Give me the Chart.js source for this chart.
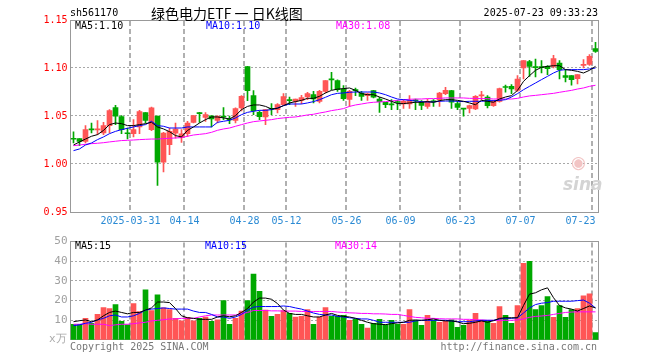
<!DOCTYPE html>
<html><head><meta charset="utf-8">
<script src="https://cdn.jsdelivr.net/npm/chart.js@4.4.1/dist/chart.umd.min.js"></script>
<style>
html,body{margin:0;padding:0;background:#fff;}
#wrap{position:relative;width:660px;height:360px;overflow:hidden;background:#fff;}
canvas{position:absolute;left:0;}
.t{position:absolute;font-family:'DejaVu Sans Mono',monospace;font-size:10px;line-height:12px;white-space:pre;}
</style></head>
<body><div id="wrap">
<canvas id="k" width="660" height="232" style="top:0;width:660px;height:232px"></canvas>
<canvas id="v" width="660" height="128" style="top:232px;width:660px;height:128px"></canvas>
<div class="t" style="left:70px;top:7px;color:#000">sh561170</div>
<div class="t" style="left:151px;top:4px;font-family:'Noto Sans CJK SC',sans-serif;font-size:14px;line-height:18px;color:#000">绿色电力ETF 一 日K线图</div>
<div class="t" style="right:62px;top:7px;color:#000">2025-07-23 09:33:23</div>
<div class="t" style="left:75px;top:20px;color:#000">MA5:1.10</div>
<div class="t" style="left:206px;top:20px;color:#0000ff">MA10:1.10</div>
<div class="t" style="left:336px;top:20px;color:#ff00ff">MA30:1.08</div>
<div class="t" style="left:75px;top:240px;color:#000">MA5:15</div>
<div class="t" style="left:205px;top:240px;color:#0000ff">MA10:15</div>
<div class="t" style="left:335px;top:240px;color:#ff00ff">MA30:14</div>
<div class="t" style="left:49px;top:333px;color:#aaa;font-size:11px">x万</div>
<div class="t" style="left:70px;top:341px;color:#777">Copyright 2025 SINA.COM</div>
<div class="t" style="right:63px;top:341px;color:#777">http://finance.sina.com.cn</div>
<div class="t" style="left:571px;top:152px;color:#f2c4c4;font-family:'DejaVu Sans',sans-serif;font-size:17px;line-height:20px">◉</div>
<div class="t" style="left:563px;top:174px;color:#d4d4d4;font-family:'DejaVu Sans',sans-serif;font-size:17px;line-height:20px;font-style:italic;font-weight:bold">sina</div>
</div>
<script>
const dates = [
 '2025-03-17','2025-03-18','2025-03-19','2025-03-20','2025-03-21','2025-03-24','2025-03-25','2025-03-26','2025-03-27','2025-03-28','2025-03-31',
 '2025-04-01','2025-04-02','2025-04-03','2025-04-07','2025-04-08','2025-04-09','2025-04-10','2025-04-11','2025-04-14','2025-04-15','2025-04-16','2025-04-17','2025-04-18','2025-04-21','2025-04-22','2025-04-23','2025-04-24','2025-04-25','2025-04-28','2025-04-29','2025-04-30',
 '2025-05-06','2025-05-07','2025-05-08','2025-05-09','2025-05-12','2025-05-13','2025-05-14','2025-05-15','2025-05-16','2025-05-19','2025-05-20','2025-05-21','2025-05-22','2025-05-23','2025-05-26','2025-05-27','2025-05-28','2025-05-29','2025-05-30',
 '2025-06-03','2025-06-04','2025-06-05','2025-06-06','2025-06-09','2025-06-10','2025-06-11','2025-06-12','2025-06-13','2025-06-16','2025-06-17','2025-06-18','2025-06-19','2025-06-20','2025-06-23','2025-06-24','2025-06-25','2025-06-26','2025-06-27','2025-06-30',
 '2025-07-01','2025-07-02','2025-07-03','2025-07-04','2025-07-07','2025-07-08','2025-07-09','2025-07-10','2025-07-11','2025-07-14','2025-07-15','2025-07-16','2025-07-17','2025-07-18','2025-07-21','2025-07-22','2025-07-23'
];
const tickDates = ['2025-03-31','2025-04-14','2025-04-28','2025-05-12','2025-05-26','2025-06-09','2025-06-23','2025-07-07','2025-07-23'];
const tickLabels = ['2025-03-31','04-14','04-28','05-12','05-26','06-09','06-23','07-07','07-23    '];
const priceTicks = [0.95,1.00,1.05,1.10,1.15];
const volTicks = [0,10,20,30,40,50];

const opens = [
 1.0262,1.0264,1.0236,1.0360,1.0355,1.0323,1.0400,1.0587,1.0493,1.0318,
 1.0316,1.0386,1.0535,1.0358,1.0500,1.0018,1.0202,1.0320,1.0278,1.0316,
 1.0434,1.0527,1.0486,1.0503,1.0455,1.0490,1.0464,1.0455,1.0584,1.1014,
 1.0712,1.0538,1.0490,1.0574,1.0566,1.0618,1.0665,1.0653,1.0663,1.0698,
 1.0722,1.0653,1.0757,1.0880,1.0868,1.0781,1.0674,1.0767,1.0740,1.0712,
 1.0764,1.0677,1.0643,1.0620,1.0645,1.0625,1.0625,1.0662,1.0643,1.0600,
 1.0651,1.0670,1.0733,1.0764,1.0629,1.0575,1.0580,1.0573,1.0709,1.0698,
 1.0608,1.0653,1.0801,1.0809,1.0767,1.1000,1.1066,1.1008,1.1008,1.1017,
 1.1017,1.1052,1.0920,1.0920,1.0889,1.1028,1.1038,1.1201];
const closes = [
 1.0258,1.0236,1.0358,1.0356,1.0360,1.0400,1.0556,1.0497,1.0358,1.0315,
 1.0358,1.0545,1.0455,1.0584,1.0018,1.0323,1.0340,1.0365,1.0313,1.0427,
 1.0504,1.0524,1.0514,1.0469,1.0497,1.0488,1.0460,1.0577,1.0705,1.0764,
 1.0556,1.0493,1.0566,1.0570,1.0618,1.0702,1.0660,1.0677,1.0691,1.0733,
 1.0677,1.0757,1.0868,1.0876,1.0775,1.0681,1.0757,1.0764,1.0705,1.0730,
 1.0695,1.0650,1.0618,1.0616,1.0641,1.0653,1.0660,1.0658,1.0611,1.0653,
 1.0647,1.0740,1.0767,1.0643,1.0590,1.0572,1.0608,1.0705,1.0713,1.0608,
 1.0653,1.0785,1.0797,1.0781,1.0885,1.1076,1.1017,1.1004,1.1004,1.0993,
 1.1097,1.0983,1.0903,1.0879,1.0931,1.1038,1.1121,1.1174];
const highs = [
 1.0334,1.0264,1.0400,1.0427,1.0452,1.0434,1.0566,1.0611,1.0504,1.0375,
 1.0462,1.0559,1.0535,1.0594,1.0500,1.0330,1.0375,1.0427,1.0358,1.0445,
 1.0504,1.0538,1.0535,1.0503,1.0504,1.0587,1.0500,1.0584,1.0712,1.1017,
 1.0764,1.0555,1.0566,1.0629,1.0629,1.0733,1.0698,1.0677,1.0716,1.0747,
 1.0757,1.0767,1.0868,1.0955,1.0878,1.0816,1.0767,1.0792,1.0757,1.0740,
 1.0767,1.0695,1.0643,1.0670,1.0660,1.0670,1.0712,1.0677,1.0660,1.0677,
 1.0670,1.0747,1.0799,1.0767,1.0653,1.0580,1.0615,1.0712,1.0757,1.0712,
 1.0663,1.0792,1.0823,1.0826,1.0920,1.1076,1.1080,1.1094,1.1076,1.1024,
 1.1132,1.1076,1.0983,1.0920,1.0931,1.1087,1.1139,1.1267];
const lows = [
 1.0220,1.0191,1.0219,1.0323,1.0306,1.0306,1.0323,1.0410,1.0316,1.0260,
 1.0281,1.0316,1.0427,1.0348,0.9778,0.9917,1.0098,1.0270,1.0226,1.0288,
 1.0427,1.0434,1.0444,1.0386,1.0427,1.0462,1.0420,1.0427,1.0552,1.0660,
 1.0514,1.0462,1.0410,1.0514,1.0531,1.0615,1.0618,1.0600,1.0629,1.0670,
 1.0636,1.0636,1.0740,1.0775,1.0757,1.0663,1.0601,1.0712,1.0663,1.0663,
 1.0688,1.0538,1.0587,1.0566,1.0566,1.0580,1.0580,1.0566,1.0566,1.0580,
 1.0600,1.0600,1.0722,1.0580,1.0566,1.0497,1.0531,1.0566,1.0670,1.0584,
 1.0600,1.0643,1.0747,1.0733,1.0757,1.0885,1.0913,1.0906,1.0948,1.0931,
 1.1000,1.0885,1.0854,1.0820,1.0833,1.1000,1.1028,1.1163];
const ma5 = [
 1.0198,1.0230,1.0260,1.0289,1.0306,1.0350,1.0410,1.0427,1.0420,1.0400,
 1.0400,1.0410,1.0420,1.0434,1.0386,1.0365,1.0337,1.0296,1.0282,1.0350,
 1.0386,1.0427,1.0462,1.0490,1.0490,1.0480,1.0469,1.0504,1.0566,1.0600,
 1.0615,1.0615,1.0600,1.0573,1.0580,1.0608,1.0636,1.0650,1.0663,1.0684,
 1.0684,1.0705,1.0740,1.0767,1.0780,1.0785,1.0792,1.0767,1.0733,1.0722,
 1.0722,1.0698,1.0677,1.0653,1.0629,1.0629,1.0636,1.0643,1.0643,1.0650,
 1.0643,1.0660,1.0670,1.0670,1.0663,1.0653,1.0636,1.0618,1.0663,1.0653,
 1.0643,1.0677,1.0698,1.0712,1.0767,1.0861,1.0920,1.0976,1.1007,1.1017,
 1.1024,1.1024,1.0983,1.0976,1.0965,1.0948,1.0976,1.1017];
const ma10 = [
 1.0139,1.0157,1.0198,1.0219,1.0254,1.0282,1.0316,1.0340,1.0358,1.0372,
 1.0386,1.0400,1.0410,1.0445,1.0400,1.0393,1.0375,1.0375,1.0375,1.0386,
 1.0386,1.0386,1.0386,1.0386,1.0434,1.0445,1.0455,1.0480,1.0514,1.0538,
 1.0549,1.0559,1.0559,1.0566,1.0584,1.0608,1.0625,1.0625,1.0625,1.0636,
 1.0650,1.0670,1.0695,1.0722,1.0736,1.0740,1.0747,1.0750,1.0750,1.0750,
 1.0750,1.0740,1.0722,1.0698,1.0677,1.0670,1.0663,1.0656,1.0650,1.0646,
 1.0646,1.0653,1.0656,1.0656,1.0653,1.0650,1.0653,1.0653,1.0653,1.0660,
 1.0660,1.0663,1.0670,1.0698,1.0733,1.0774,1.0809,1.0844,1.0879,1.0913,
 1.0948,1.0976,1.0983,1.0983,1.0983,1.0983,1.0990,1.1000];
const ma30 = [
 1.0191,1.0198,1.0205,1.0212,1.0216,1.0222,1.0230,1.0237,1.0244,1.0247,
 1.0250,1.0254,1.0257,1.0260,1.0260,1.0264,1.0268,1.0271,1.0275,1.0289,
 1.0302,1.0309,1.0316,1.0330,1.0351,1.0365,1.0375,1.0393,1.0410,1.0427,
 1.0441,1.0448,1.0455,1.0462,1.0473,1.0480,1.0486,1.0490,1.0500,1.0511,
 1.0518,1.0531,1.0542,1.0556,1.0566,1.0577,1.0600,1.0615,1.0625,1.0636,
 1.0643,1.0646,1.0650,1.0656,1.0663,1.0670,1.0674,1.0677,1.0677,1.0681,
 1.0681,1.0684,1.0688,1.0688,1.0688,1.0688,1.0684,1.0684,1.0681,1.0681,
 1.0677,1.0677,1.0677,1.0677,1.0684,1.0698,1.0709,1.0715,1.0722,1.0729,
 1.0736,1.0747,1.0757,1.0767,1.0781,1.0792,1.0809,1.0820];
const volumes = [
 8,8,11,8.5,13,16.5,16,18,9.5,7.7,
 18.5,14.5,25.5,15,23,16.3,15.5,11,9.7,11.5,
 9.7,11,11.7,9.5,10.2,20,8,11,14.7,20,
 33.5,24.7,15.2,12,13,15,13.5,11.7,12,15.5,
 8,11.7,16.5,12,12,12.5,10,10.5,8,6,
 8.5,10.5,7.7,10,8,8,15.5,10,7.5,12.5,
 10,9,9.5,10.3,6.5,7.5,10,13.5,10,10,
 8.5,17,12.5,8.5,17.5,39,40,15.5,17.5,22,
 11.5,17.5,11.5,15.5,16,22.5,23.5,3.8];
const vma5 = [
 9.3,9.8,10.2,9.3,10.2,12.3,14,14.7,14,13.3,
 14,14,15.2,16.3,19.3,19.3,19,16,12.3,11.3,
 11,10.5,10.5,10.5,11.7,12.3,11.8,12.3,14,16,
 19.3,21.3,21.3,20.7,18.5,15.2,13.5,13,13,12.3,
 11.7,11.7,12.7,13.5,12.5,12,11.7,11,10,9,
 8.3,8,7.8,8.3,8.7,9,10,10.2,10,10.3,
 10.7,10,9.7,9.7,9.2,8.3,8.5,9,9.7,9,
 9.8,11,11.3,11.3,11.3,17.5,23.3,24,25.5,26.5,
 21.5,17.5,16.3,15.7,14.7,16,17.3,16.3];
const vma10 = [
 7.3,7.7,8.5,9,10.2,11,12.3,12.7,11.7,11.7,
 12.3,13.5,15.2,15.7,16,16.3,16,15.7,15.7,15.7,
 14.7,14,14,13,11.7,11.7,11,11.7,13,15.2,
 16.7,17,17,17,17,17.3,17,16.3,15.7,14.7,
 13.7,13,12.7,12.7,12,11.7,11.3,11,10.7,10.7,
 10,9,9,9,9,9,9,9.7,10,10,
 10,10,10,9.7,9.3,9.3,9.3,9.7,10,10,
 10,10.7,11,11,11.3,13.7,16.3,18,18.7,19,
 19.7,19.7,19.7,19.7,20,20.3,18.7,16.3];
const vma30 = [
 8,8,8.3,8,8,8,7.3,7.7,8,8,
 8.3,8.7,9,9.7,10,10.3,10.7,10.7,11,11,
 11,11.7,12.3,12.7,12.7,12.7,12.7,12.7,13.3,14,
 15,15,15,14.8,14.8,14.7,14.7,14.7,14.5,14.5,
 14.5,14.5,14.5,14.5,14.2,14,13.8,13.7,13.5,13.5,
 13.3,13.3,13.2,13,13,12.5,12,11.5,11.3,11,
 11,10.8,10.7,10.7,10.7,10.5,10.5,10.3,10.2,10,
 10,10,10,10,10.2,10.7,11.5,12,12.2,12.5,
 13,13.5,14,14.2,14.3,14.3,14.3,14.3];

const RED = '#ff5555', GREEN = '#00a800';
const N = dates.length;
const xs = dates.map((d, i) => i + 0.5);
const candleColors = dates.map((d, i) => closes[i] >= opens[i] ? RED : GREEN);
const tickIdx = tickDates.map(d => dates.indexOf(d));
const MONO = "'DejaVu Sans Mono', monospace";

// plot frame and the dashed date grid, both placed from the chart's own scales
const framePlugin = {
  id: 'frame',
  beforeDatasetsDraw(c) {
    const a = c.chartArea, ctx = c.ctx, sx = c.scales.x;
    ctx.save();
    ctx.strokeStyle = '#b0b0b0';
    ctx.lineWidth = 2;
    ctx.setLineDash([5, 3]);
    sx.ticks.forEach((t, i) => {
      const px = Math.floor(sx.getPixelForTick(i));
      ctx.beginPath();
      ctx.moveTo(px, a.top + 1);
      ctx.lineTo(px, a.bottom);
      ctx.stroke();
    });
    ctx.setLineDash([]);
    ctx.strokeStyle = '#999';
    ctx.lineWidth = 1;
    ctx.strokeRect(Math.floor(a.left) + 0.5, Math.floor(a.top) + 0.5,
      Math.round(a.right - a.left), Math.round(a.bottom - a.top));
    ctx.restore();
  }
};

function xAxis(showLabels) {
  return {
    type: 'linear', min: 0, max: N, offset: false,
    afterBuildTicks: s => { s.ticks = tickIdx.map(v => ({ value: v })); },
    afterFit: s => { s.height = 20; },
    ticks: {
      display: showLabels, autoSkip: false, maxRotation: 0, minRotation: 0, padding: 3,
      color: '#2a8ad4', font: { family: MONO, size: 10 },
      callback: (v, i) => tickLabels[i]
    },
    grid: { display: false, drawTicks: false, offset: false },
    border: { display: false }
  };
}

function yAxis(min, max, ticks, color, fmt, size) {
  return {
    type: 'linear', min: min, max: max,
    afterBuildTicks: s => { s.ticks = ticks.map(v => ({ value: v })); },
    afterFit: s => { s.width = 70.5; },
    ticks: { color: color, padding: 3, font: { family: MONO, size: size }, callback: fmt },
    grid: {
      drawTicks: false, lineWidth: 1,
      color: ctx => (ctx.tick && (Math.abs(ctx.tick.value - min) < 1e-9 || Math.abs(ctx.tick.value - max) < 1e-9)) ? 'rgba(0,0,0,0)' : '#a8a8a8'
    },
    border: { display: false, dash: [2, 2] }
  };
}

function line(vals, color) {
  return { type: 'line', data: xs.map((x, i) => ({ x: x, y: vals[i] })), borderColor: color,
    borderWidth: 1, pointRadius: 0, tension: 0, order: 0, fill: false };
}

const common = {
  responsive: false, animation: false, devicePixelRatio: 1,
  plugins: { legend: { display: false }, tooltip: { enabled: false } }
};

new Chart(document.getElementById('k'), {
  type: 'bar',
  data: {
    datasets: [
      line(ma5, '#000000'), line(ma10, '#0000ff'), line(ma30, '#ff00ff'),
      { type: 'bar', data: xs.map((x, i) => ({ x: x, y: [opens[i], closes[i]] })), backgroundColor: candleColors,
        barThickness: 5, grouped: false, order: 1, minBarLength: 1, borderWidth: 0 },
      { type: 'bar', data: xs.map((x, i) => ({ x: x, y: [lows[i], highs[i]] })), backgroundColor: candleColors,
        barThickness: 1, grouped: false, order: 2, minBarLength: 1, borderWidth: 0 }
    ]
  },
  options: Object.assign({}, common, {
    layout: { padding: { top: 20, right: 61.5, left: 0, bottom: 0 } },
    scales: {
      x: xAxis(true),
      y: yAxis(0.95, 1.15, priceTicks, '#ff0000', v => v.toFixed(2), 10)
    }
  }),
  plugins: [framePlugin]
});

new Chart(document.getElementById('v'), {
  type: 'bar',
  data: {
    datasets: [
      line(vma5, '#000000'), line(vma10, '#0000ff'), line(vma30, '#ff00ff'),
      { type: 'bar', data: xs.map((x, i) => ({ x: x, y: volumes[i] })), backgroundColor: candleColors,
        barThickness: 5, grouped: false, order: 1, borderWidth: 0 }
    ]
  },
  options: Object.assign({}, common, {
    layout: { padding: { top: 8, right: 61.5, left: 0, bottom: 0 } },
    scales: {
      x: xAxis(false),
      y: yAxis(0, 50, volTicks, '#a0a0a0', v => v === 0 ? '' : String(v), 11)
    }
  }),
  plugins: [framePlugin]
});
</script>
</body></html>
